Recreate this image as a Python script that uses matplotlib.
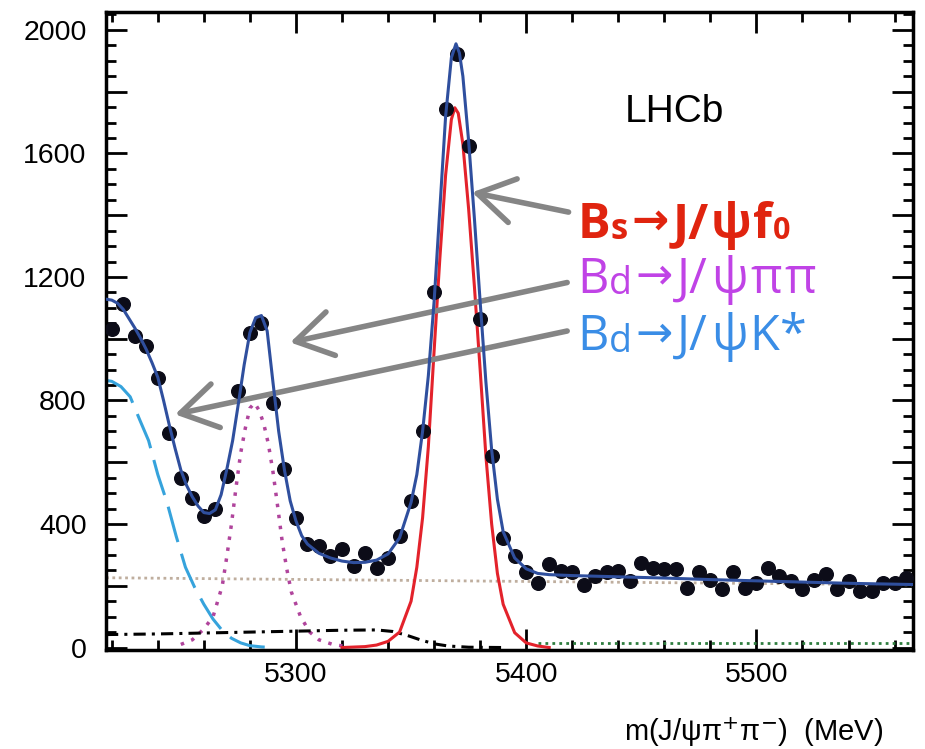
import matplotlib
matplotlib.use("Agg")
import matplotlib.pyplot as plt
from matplotlib.ticker import MultipleLocator, FuncFormatter

# data points, 5 MeV bins
mass = list(range(5220, 5566, 5))
counts = [1031, 1112, 1009, 977, 874, 696, 550, 485, 425, 447,
          555, 831, 1020, 1052, 793, 577, 420, 334, 328, 296,
          318, 264, 307, 258, 291, 361, 474, 701, 1150, 1744,
          1922, 1625, 1063, 620, 355, 296, 243, 210, 269, 247,
          243, 204, 231, 243, 247, 215, 275, 259, 253, 253,
          194, 243, 220, 188, 243, 194, 210, 259, 231, 215,
          188, 220, 237, 188, 215, 183, 183, 210, 210, 225]

# total fit
fit_x = [5217.5, 5220, 5222.5, 5225, 5227.5, 5230, 5232.5, 5235, 5237.5, 5240,
         5242.5, 5245, 5247.5, 5250, 5252.5, 5255, 5257.5, 5260, 5262.5, 5265,
         5267.5, 5270, 5272.5, 5275, 5277.5, 5280, 5282.5, 5285, 5287.5, 5290,
         5292.5, 5295, 5297.5, 5300, 5302.5, 5305, 5310, 5315, 5320, 5325,
         5330, 5335, 5340, 5345, 5350, 5352.5, 5355, 5357.5, 5360, 5362.5,
         5365, 5367.5, 5369.5, 5371, 5372.5, 5375, 5377.5, 5380, 5382.5, 5385,
         5387.5, 5390, 5395, 5400, 5405, 5410, 5420, 5440, 5460, 5480,
         5500, 5520, 5540, 5568]
fit_y = [1128, 1125, 1115, 1095, 1065, 1035, 1002, 965, 922, 875,
         800, 720, 645, 575, 525, 488, 458, 437, 434, 446,
         495, 578, 670, 790, 915, 1020, 1068, 1075, 1025, 860,
         700, 575, 475, 410, 362, 335, 305, 290, 280, 275,
         276, 283, 303, 355, 470, 560, 700, 880, 1120, 1420,
         1720, 1910, 1955, 1925, 1850, 1640, 1390, 1120, 860, 640,
         480, 375, 290, 255, 240, 236, 233, 229, 225, 220,
         216, 212, 208, 204]

# Bs -> J/psi f0 signal
bs_x = [5320, 5330, 5335, 5340, 5345, 5350, 5352.5, 5355, 5357.5, 5360,
        5362.5, 5365, 5367.5, 5369, 5370.5, 5372.5, 5375, 5377.5, 5380, 5382.5,
        5385, 5387.5, 5390, 5395, 5400, 5405, 5410]
bs_y = [0, 3, 8, 20, 50, 150, 260, 420, 650, 960,
        1260, 1530, 1710, 1748, 1730, 1630, 1420, 1170, 900, 620,
        400, 240, 140, 48, 15, 5, 0]

# Bd -> J/psi pi pi
bdpp_x = [5250, 5255, 5260, 5264, 5268, 5270, 5272, 5274, 5276, 5278,
          5280, 5282, 5284, 5286, 5288, 5290, 5292, 5294, 5296, 5298,
          5302, 5306, 5310, 5316, 5322]
bdpp_y = [10, 25, 60, 100, 200, 296, 400, 520, 630, 710,
          775, 792, 768, 725, 660, 570, 460, 345, 255, 180,
          100, 50, 25, 10, 3]

# Bd -> J/psi K*
bdk_x = [5217.5, 5220, 5224, 5228, 5232, 5236, 5240, 5244, 5248, 5252,
         5256, 5260, 5264, 5268, 5272, 5276, 5280, 5285, 5290]
bdk_y = [865, 862, 845, 812, 740, 670, 560, 470, 360, 260,
         195, 140, 92, 55, 30, 15, 6, 2, 0]

# other components
bkg_x = [5217.5, 5568]
bkg_y = [226, 203]
part_x = [5217.5, 5240, 5260, 5280, 5300, 5320, 5335, 5342, 5348, 5354,
          5360, 5366, 5375, 5390]
part_y = [42, 44, 47, 50, 53, 56, 57, 52, 40, 25,
          12, 5, 1, 0]
grn_x = [5405, 5568]
grn_y = [15, 15]

fig = plt.figure(figsize=(9.25, 7.49), dpi=100)
ax = fig.add_axes([106/925, 1 - 650/749, 807/925, 638/749])

ax.plot(bkg_x, bkg_y, color='#bfae9e', lw=2, ls=(0, (1, 1.3)))
ax.plot(bdk_x, bdk_y, color='#36a3dc', lw=2.2, ls=(0, (12, 4)))
ax.plot(bdpp_x, bdpp_y, color='#b0449c', lw=2.5, ls=(0, (1, 2.2)))
ax.plot(part_x, part_y, color='black', lw=2.2, ls=(0, (4, 2, 1, 2)))
ax.plot(grn_x, grn_y, color='#2e7d3e', lw=2, ls=(0, (1, 1.5)))
ax.plot(bs_x, bs_y, color='#e3222b', lw=2.2)
ax.plot(mass, counts, 'o', color='#0c0c18', ms=9.8, zorder=4)
ax.plot(fit_x, fit_y, color='#2f4f9e', lw=2.2, zorder=5)

ax.set_xlim(5217.5, 5568)
ax.set_ylim(-8, 2058)

ax.xaxis.set_major_locator(MultipleLocator(100))
ax.xaxis.set_minor_locator(MultipleLocator(20))
ax.yaxis.set_major_locator(MultipleLocator(200))
ax.yaxis.set_minor_locator(MultipleLocator(50))
ax.yaxis.set_major_formatter(FuncFormatter(lambda v, p: '%d' % v if round(v) % 400 == 0 else ''))

ax.tick_params(which='both', direction='in', top=True, right=True, width=2)
ax.tick_params(which='major', length=15)
ax.tick_params(which='minor', length=7.5)
ax.tick_params(axis='y', pad=14)
ax.tick_params(axis='x', pad=9)
for lab in ax.get_xticklabels() + ax.get_yticklabels():
    lab.set_family('Liberation Sans')
    lab.set_fontsize(20.5)
for s in ax.spines.values():
    s.set_linewidth(2.5)

ax.set_xlabel(r'm(J/ψπ$^{+}$π$^{-}$)  (MeV)', family='Liberation Sans', fontsize=21, ha='right')
ax.xaxis.set_label_coords(0.963, -0.102)

ax.text(0.705, 0.828, 'LHCb', transform=ax.transAxes, ha='center', va='baseline',
        family='Liberation Sans', fontsize=28)

fam = ['Open Sans', 'DejaVu Sans']


def chain(x, y, pieces, **kw):
    # pieces: (text, fontsize, dy in points, gap in points)
    t = ax.text(x, y, pieces[0][0], transform=ax.transAxes, va='baseline',
                fontsize=pieces[0][1], family=fam, **kw)
    for s, size, dy, gap in pieces[1:]:
        t = ax.annotate(s, xy=(1, y), xycoords=(t, ax.transAxes), xytext=(gap, dy),
                        textcoords='offset points', va='baseline', fontsize=size,
                        family=fam, **kw)


chain(0.584, 0.646, [('B', 35, 0, 0), ('s', 25, -1, 0), ('→', 32, 3, 3), ('J/', 35, 0, 3),
                     ('ψ', 35, 0, 1), ('f', 35, 0, 1), ('0', 22, -1, 1)],
      color='#e0240f', fontweight='bold')
chain(0.584, 0.560, [('B', 35, 0, 0), ('d', 27, -1, 0), ('→', 32, 3, 3), ('J/', 35, 0, 3),
                     ('ψ', 35, 0, 2), ('π', 35, 0, 2), ('π', 35, 0, 2)],
      color='#c043e6')
chain(0.584, 0.470, [('B', 35, 0, 0), ('d', 27, -1, 0), ('→', 32, 3, 3), ('J/', 35, 0, 3),
                     ('ψ', 35, 0, 2), ('K', 35, 0, 1), ('*', 35, 0, 1)],
      color='#3a8de6')

arrow = dict(arrowstyle='->,head_length=1.3,head_width=0.8', color='#858585', lw=4,
             mutation_scale=20, shrinkA=0, shrinkB=0)
ax.annotate('', xy=(5376.5, 1474), xytext=(5418.4, 1410), arrowprops=arrow)
ax.annotate('', xy=(5297.5, 988), xytext=(5417.8, 1182), arrowprops=arrow)
ax.annotate('', xy=(5247.5, 755), xytext=(5417.8, 1025), arrowprops=arrow)

fig.savefig('out.png', dpi=100)
